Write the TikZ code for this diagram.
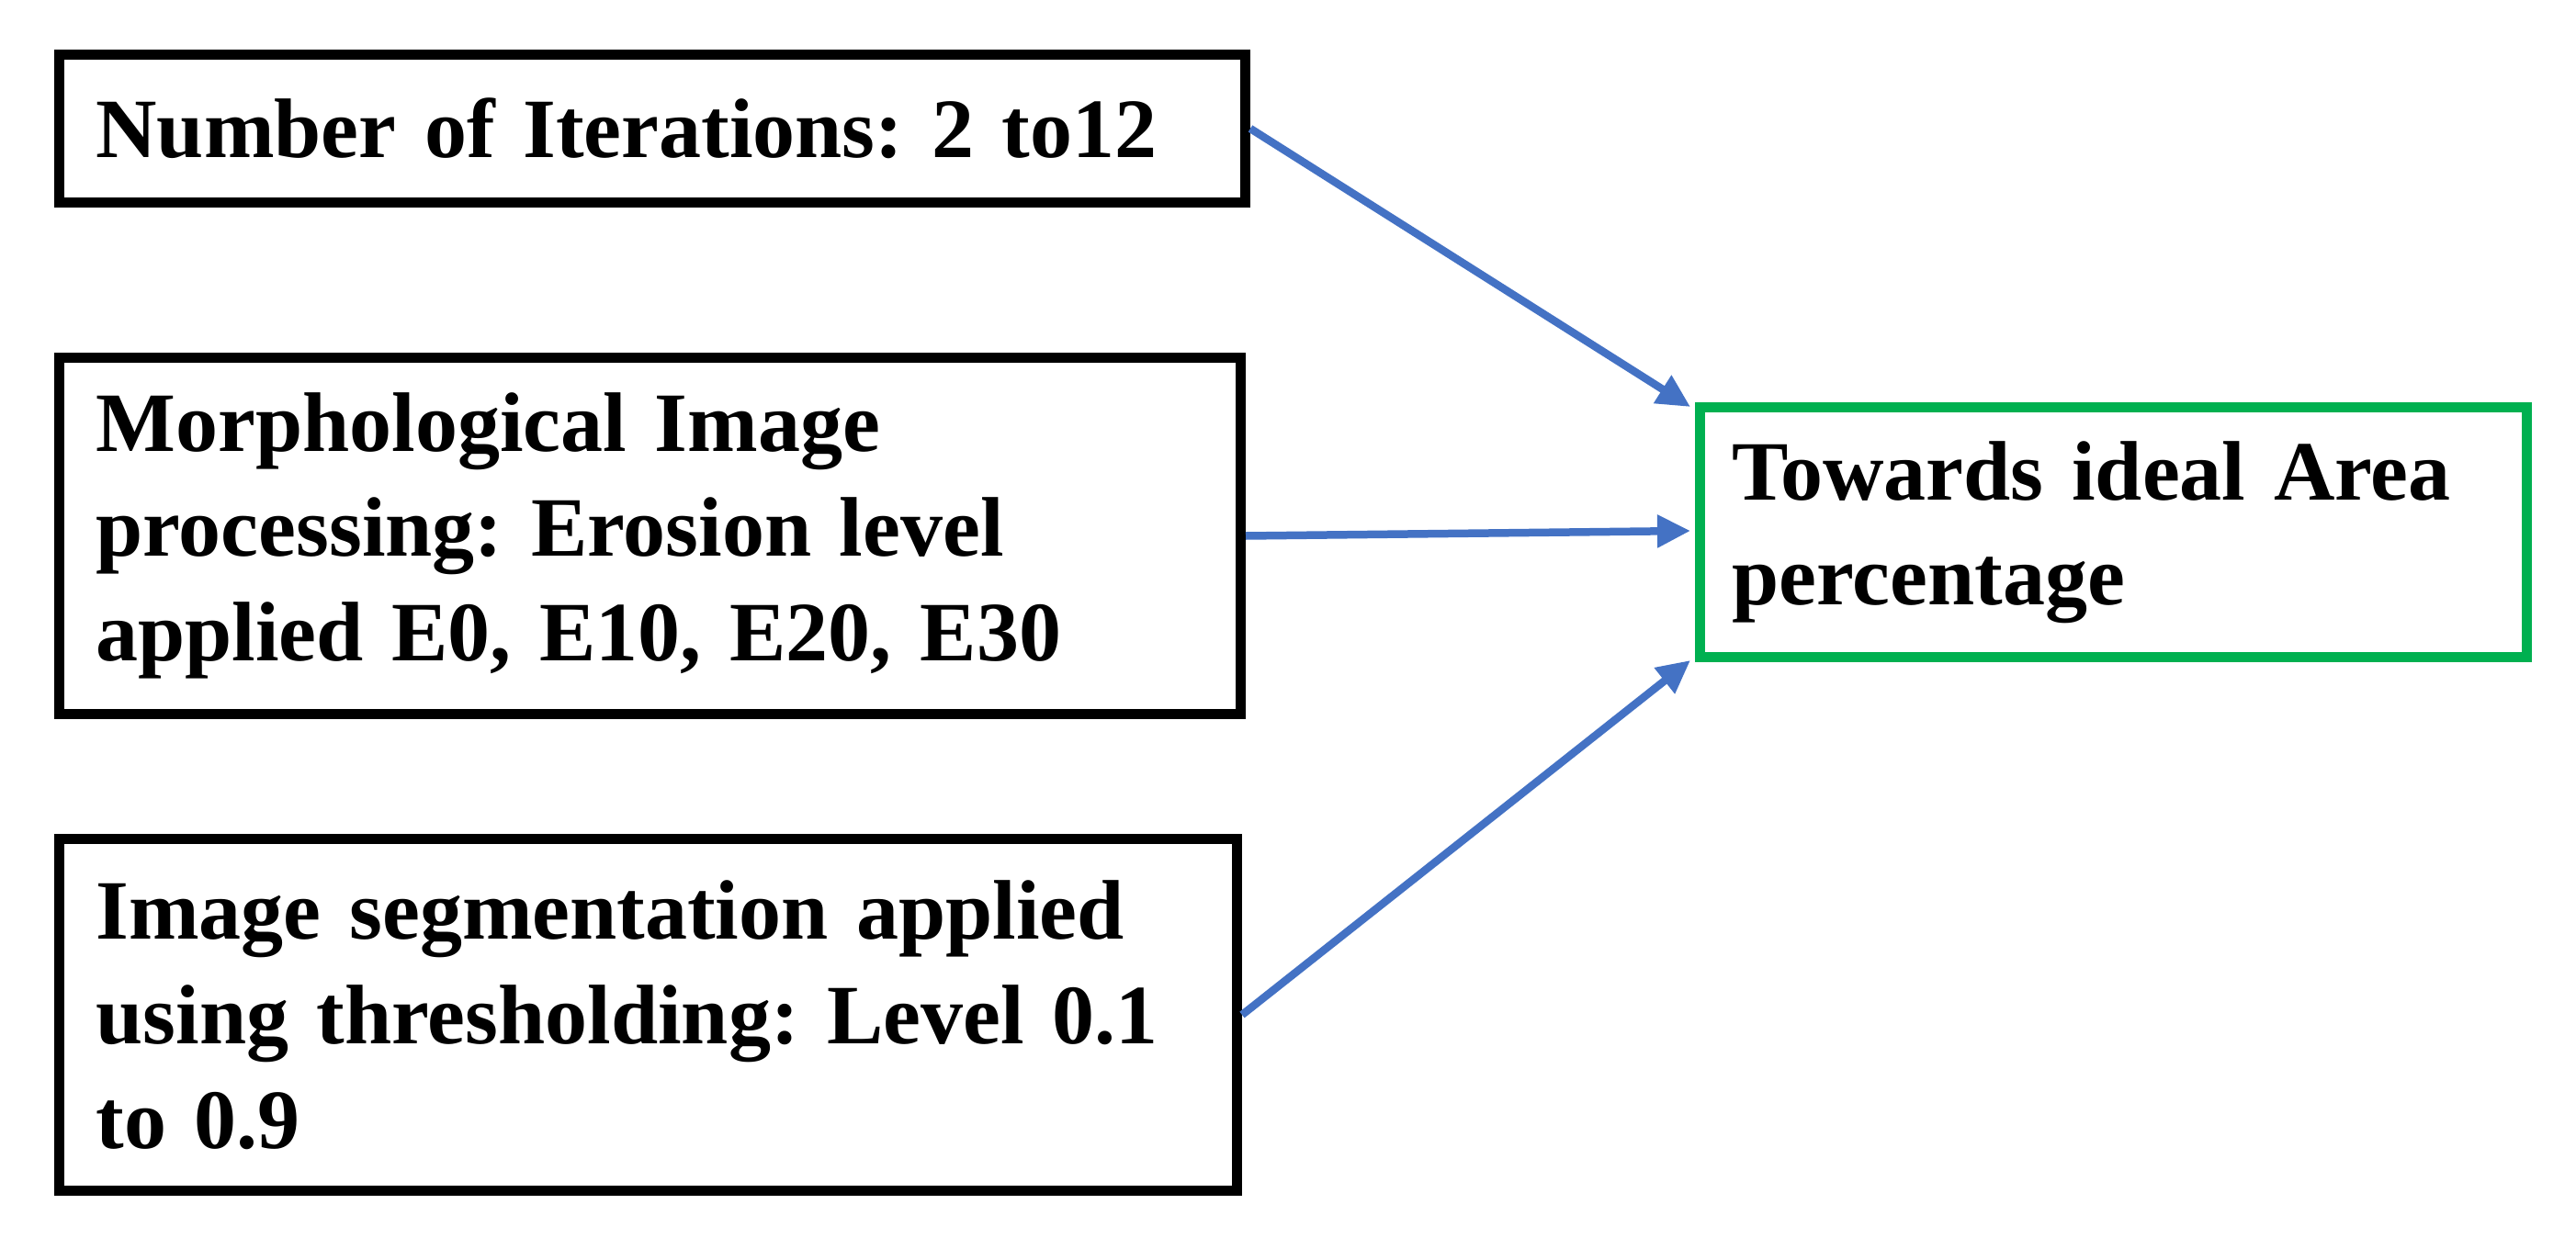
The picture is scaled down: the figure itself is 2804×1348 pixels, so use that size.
\documentclass[tikz,border=0pt]{standalone}
\usepackage{fontspec}
\setmainfont{Liberation Serif}
\usetikzlibrary{arrows.meta}
\begin{document}
\frenchspacing
\begin{tikzpicture}[x=1pt,y=-1pt,
  box/.style={draw=black,line width=11pt,anchor=north west,inner sep=0pt,align=left,
    font=\fontsize{92}{114}\selectfont\bfseries},
  arr/.style={draw={rgb,255:red,68;green,114;blue,196},line width=8.5pt,
    -{Triangle[length=36pt,width=34pt]}}]
\useasboundingbox (0,0) rectangle (2804,1348);
\node[box,minimum width=1291pt,minimum height=161pt,text width=1211pt] (a) at (59,54) {Number of Iterations: 2 to12};
\node[box,minimum width=1286pt,minimum height=388pt,text width=1206pt] (b) at (59,384) {Morphological Image\\processing: Erosion level\\applied E0, E10, E20, E30};
\node[box,minimum width=1282pt,minimum height=383pt,text width=1202pt] (c) at (59,908) {Image segmentation applied\\using thresholding: Level 0.1\\to 0.9};
\node[box,draw={rgb,255:red,0;green,176;blue,80},minimum width=900pt,minimum height=272pt,text width=830pt] (g) at (1845,438) {Towards ideal Area\\percentage};
\coordinate (g1) at (1840,443);
\coordinate (g2) at (1840,578);
\coordinate (g3) at (1840,719);
\draw[arr] (a.east) -- (g1);
\draw[arr] (b.east) -- (g2);
\draw[arr] (c.east) -- (g3);
\end{tikzpicture}
\end{document}
